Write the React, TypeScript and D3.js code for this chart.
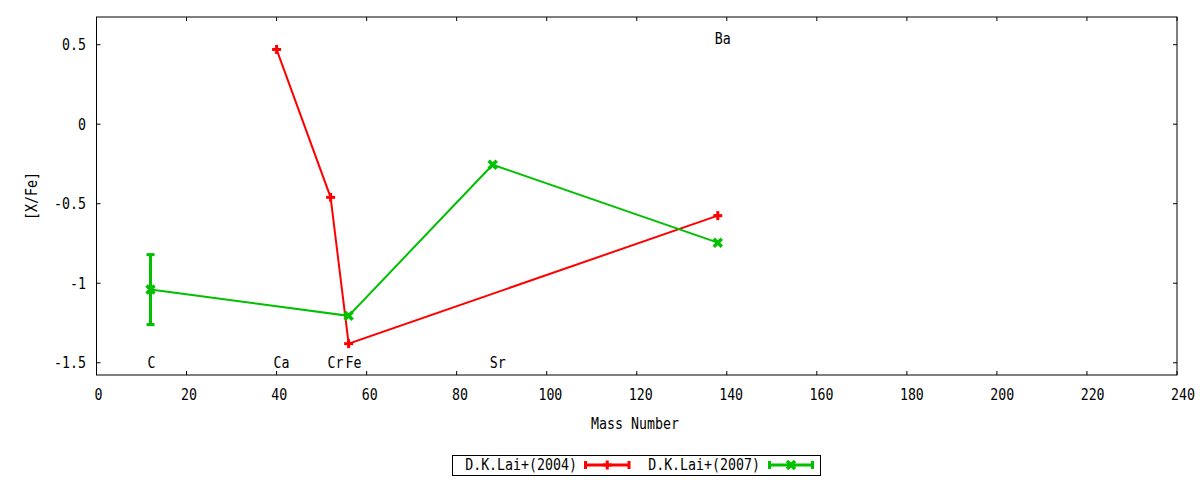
import React from "react";
import * as d3 from "d3";

const mass2004 = [40, 52, 56, 138];
const xfe2004 = [0.47, -0.46, -1.38, -0.575];
const err2004 = [0, 0, 0, 0];

const mass2007 = [12, 56, 88, 138];
const xfe2007 = [-1.04, -1.205, -0.255, -0.745];
const err2007 = [0.22, 0, 0, 0];

const elementNames = ["C", "Ca", "Cr", "Fe", "Sr", "Ba"];
const elementMass = [12, 40, 52, 56, 88, 138];
const elementLabelY = [-1.5, -1.5, -1.5, -1.5, -1.5, 0.54];

const xTicks = [0, 20, 40, 60, 80, 100, 120, 140, 160, 180, 200, 220, 240];
const yTicks = [0.5, 0, -0.5, -1, -1.5];
const yTickLabels = ["0.5", "0", "-0.5", "-1", "-1.5"];

const seriesNames = ["D.K.Lai+(2004)", "D.K.Lai+(2007)"];
const seriesColors = ["#ff0000", "#00c000"];

const W = 1200;
const H = 480;
const L = 96.5, R = 1177, T = 17, B = 375;
const FONT = "'DejaVu Sans Mono', monospace";
const FS = 15;
const SX = 0.885;

function Txt({
  x,
  y,
  anchor = "start",
  rotate = 0,
  middle = false,
  children,
}: {
  x: number;
  y: number;
  anchor?: string;
  rotate?: number;
  middle?: boolean;
  children: React.ReactNode;
}) {
  return (
    <text
      transform={`translate(${x},${y}) rotate(${rotate}) scale(${SX},1)`}
      textAnchor={anchor}
      dy={middle ? "0.36em" : undefined}
      fill="#000"
    >
      {children}
    </text>
  );
}

function Marker({ kind, cx, cy, color }: { kind: number; cx: number; cy: number; color: string }) {
  if (kind === 0) {
    const s = 4.5;
    return (
      <g stroke={color} strokeWidth={3}>
        <line x1={cx - s} x2={cx + s} y1={cy} y2={cy} />
        <line x1={cx} x2={cx} y1={cy - s} y2={cy + s} />
      </g>
    );
  }
  const c = 4;
  return (
    <g stroke={color} strokeWidth={3.5}>
      <line x1={cx - c} x2={cx + c} y1={cy - c} y2={cy + c} />
      <line x1={cx - c} x2={cx + c} y1={cy + c} y2={cy - c} />
    </g>
  );
}

export default function App() {
  const x = d3.scaleLinear().domain([0, 240]).range([L, R]);
  const y = d3.scaleLinear().domain([-1.577, 0.674]).range([B, T]);

  const series = [
    { m: mass2004, v: xfe2004, e: err2004 },
    { m: mass2007, v: xfe2007, e: err2007 },
  ];

  const line = d3
    .line<[number, number]>()
    .x((d) => x(d[0]))
    .y((d) => y(d[1]));

  const legendSamples = [
    { tx: 577, x1: 585.5, x2: 629 },
    { tx: 760, x1: 769.5, x2: 812.5 },
  ];
  const ly = 465;

  return (
    <svg
      width={W}
      height={H}
      style={{ position: "absolute", left: 0, top: 0, background: "#fff" }}
      fontFamily={FONT}
      fontSize={FS}
    >
      <rect x={0} y={0} width={W} height={H} fill="#fff" />
      {/* ticks */}
      <g stroke="#000" strokeWidth={1}>
        {xTicks.map((t) => (
          <g key={"xt" + t}>
            <line x1={x(t)} x2={x(t)} y1={B} y2={B - 4} />
            <line x1={x(t)} x2={x(t)} y1={T} y2={T + 4} />
          </g>
        ))}
        {yTicks.map((t) => (
          <g key={"yt" + t}>
            <line x1={L} x2={L + 4} y1={y(t)} y2={y(t)} />
            <line x1={R} x2={R - 4} y1={y(t)} y2={y(t)} />
          </g>
        ))}
      </g>
      {xTicks.map((t) => (
        <Txt key={"xl" + t} x={x(t) + 2 + (t / 240) * 4} y={399.5} anchor="middle">
          {String(t)}
        </Txt>
      ))}
      {yTicks.map((t, i) => (
        <Txt key={"yl" + t} x={86} y={y(t)} anchor="end" middle>
          {yTickLabels[i]}
        </Txt>
      ))}
      <Txt x={635} y={429} anchor="middle">
        Mass Number
      </Txt>
      <Txt x={37} y={196} anchor="middle" rotate={-90}>
        [X/Fe]
      </Txt>

      {/* element labels */}
      {elementNames.map((n, i) => (
        <Txt key={"el" + n} x={x(elementMass[i]) - 3} y={y(elementLabelY[i])} middle>
          {n}
        </Txt>
      ))}

      {/* data */}
      {series.map((s, si) => {
        const pts: [number, number][] = s.m.map((m, i) => [m, s.v[i]]);
        const color = seriesColors[si];
        return (
          <g key={"s" + si}>
            <path d={line(pts) || ""} fill="none" stroke={color} strokeWidth={2} />
            {s.m.map((m, i) =>
              s.e[i] > 0 ? (
                <g key={"e" + i} stroke={color} strokeWidth={3}>
                  <line x1={x(m)} x2={x(m)} y1={y(s.v[i] + s.e[i])} y2={y(s.v[i] - s.e[i])} />
                  <line x1={x(m) - 4} x2={x(m) + 4} y1={y(s.v[i] + s.e[i])} y2={y(s.v[i] + s.e[i])} />
                  <line x1={x(m) - 4} x2={x(m) + 4} y1={y(s.v[i] - s.e[i])} y2={y(s.v[i] - s.e[i])} />
                </g>
              ) : null
            )}
            {s.m.map((m, i) => (
              <Marker key={"p" + i} kind={si} cx={x(m)} cy={y(s.v[i])} color={color} />
            ))}
          </g>
        );
      })}

      {/* frame */}
      <rect x={L} y={T} width={R - L} height={B - T} fill="none" stroke="#000" strokeWidth={1} />

      {/* legend */}
      <rect x={452.5} y={455.5} width={368} height={20} fill="none" stroke="#000" strokeWidth={1} />
      {seriesNames.map((n, i) => {
        const s = legendSamples[i];
        const c = seriesColors[i];
        const mx = (s.x1 + s.x2) / 2;
        return (
          <g key={"lg" + i}>
            <Txt x={s.tx} y={ly} anchor="end" middle>
              {n}
            </Txt>
            <g stroke={c} strokeWidth={3}>
              <line x1={s.x1} x2={s.x2} y1={ly} y2={ly} />
              <line x1={s.x1} x2={s.x1} y1={ly - 4} y2={ly + 4} />
              <line x1={s.x2} x2={s.x2} y1={ly - 4} y2={ly + 4} />
            </g>
            <Marker kind={i} cx={mx} cy={ly} color={c} />
          </g>
        );
      })}
    </svg>
  );
}
